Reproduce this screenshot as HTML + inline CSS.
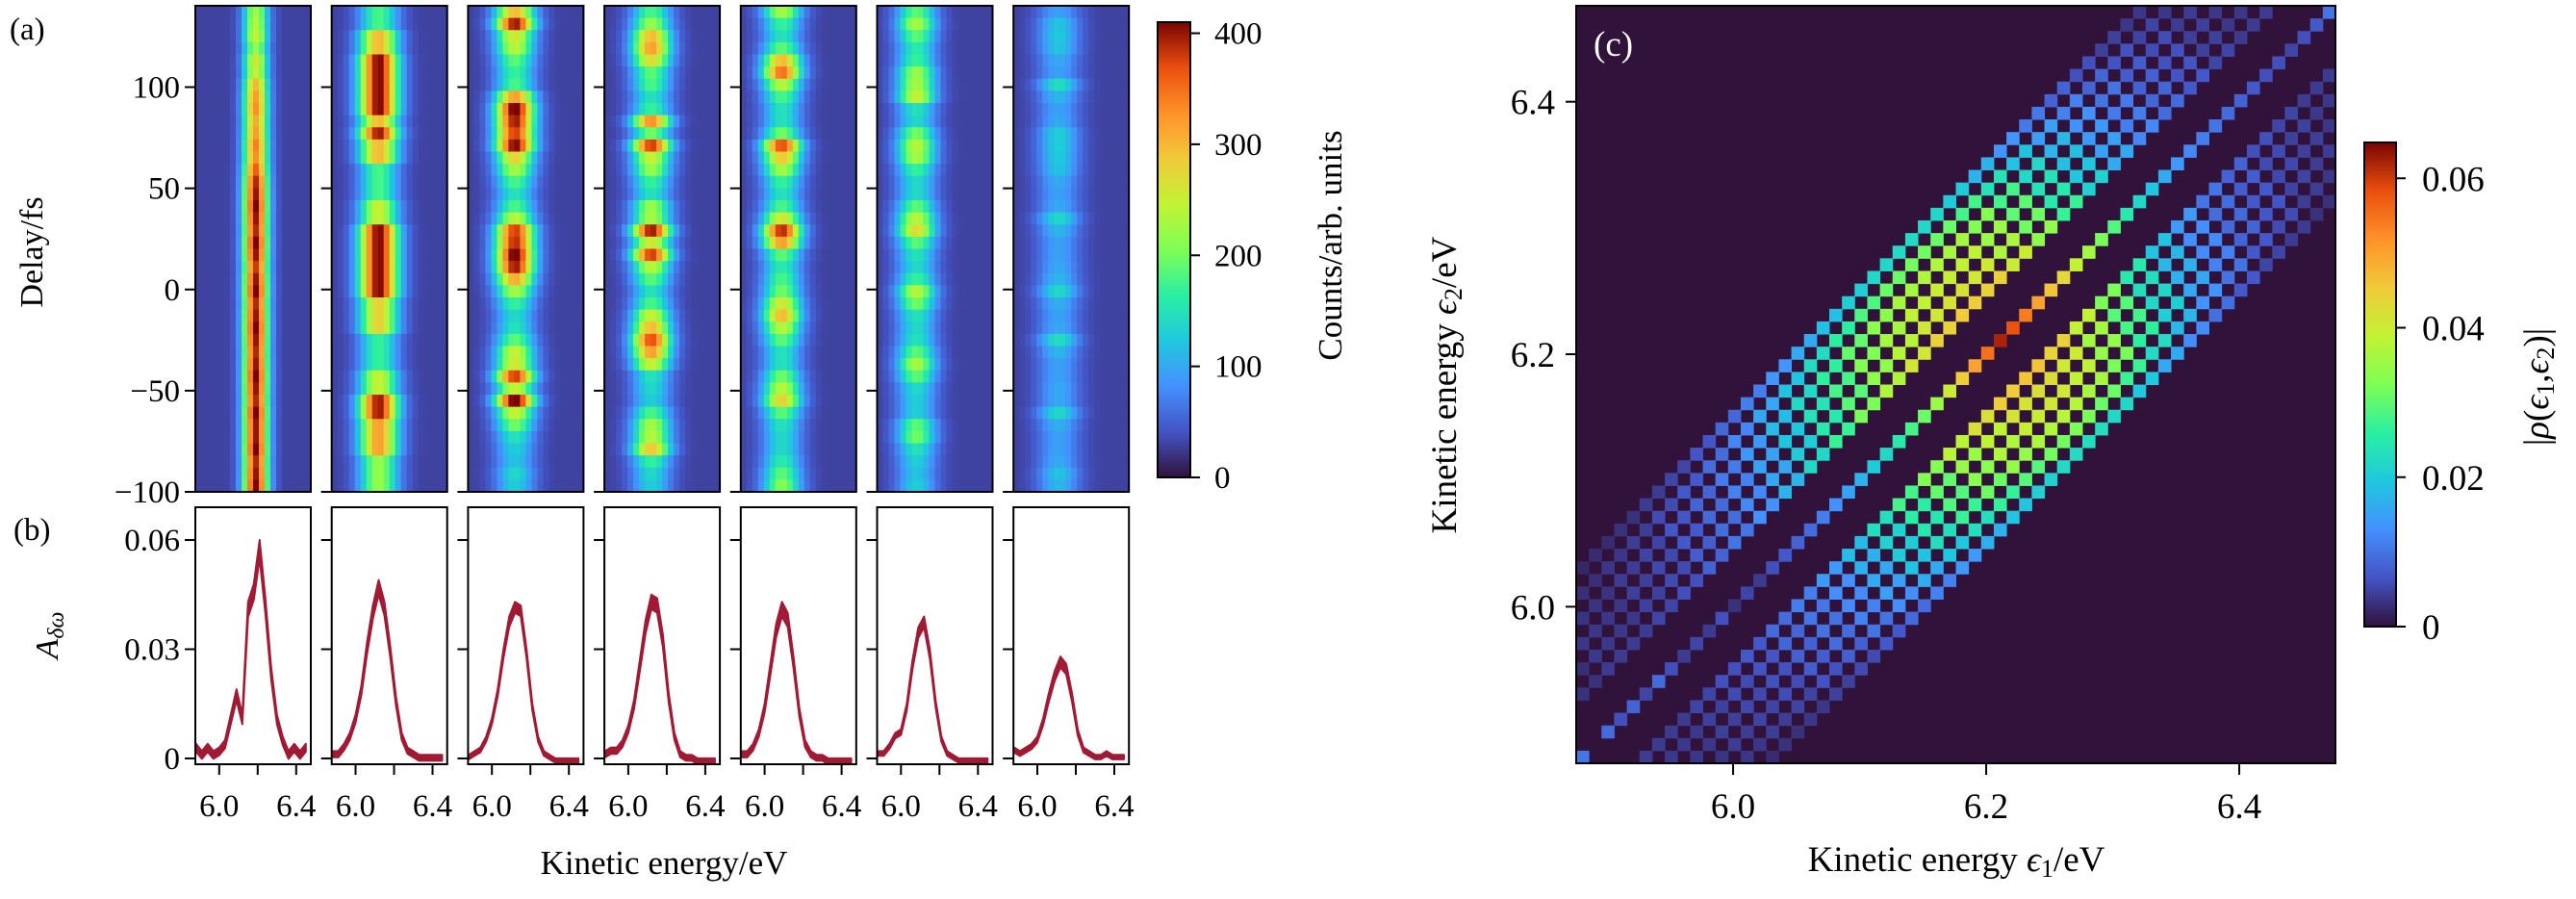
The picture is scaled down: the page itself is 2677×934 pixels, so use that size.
<!DOCTYPE html>
<html><head><meta charset="utf-8"><style>
html,body{margin:0;padding:0;background:#fff;}
svg text{font-family:"Liberation Serif",serif;fill:#000;}
</style></head><body>
<svg id="fig" width="2677" height="929" viewBox="0 0 2677 929" xmlns="http://www.w3.org/2000/svg">
<defs>
<linearGradient id="turboGradA" x1="0" y1="1" x2="0" y2="0"></linearGradient>
<linearGradient id="turboGradC" x1="0" y1="1" x2="0" y2="0"></linearGradient>
</defs>
<g id="panelA"></g>
<g id="panelB"></g>
<g id="panelC"></g>
<g id="labels">
<text x="10" y="41" font-size="33">(a)</text>
<text x="14" y="561" font-size="33">(b)</text>
<text x="1656" y="58" font-size="37" style="fill:#fff">(c)</text>
<text transform="translate(44,262) rotate(-90)" text-anchor="middle" font-size="34">Delay/fs</text>
<text transform="translate(60,660) rotate(-90)" text-anchor="middle" font-size="34" font-style="italic">A<tspan font-size="24" dy="6">δω</tspan></text>
<text x="690" y="908" text-anchor="middle" font-size="35">Kinetic energy/eV</text>
<text transform="translate(1394,255) rotate(-90)" text-anchor="middle" font-size="35">Counts/arb. units</text>
<text x="2033" y="905" text-anchor="middle" font-size="37">Kinetic energy <tspan font-style="italic">ϵ</tspan><tspan font-size="26" dy="6">1</tspan><tspan dy="-6">/eV</tspan></text>
<text transform="translate(1513,400) rotate(-90)" text-anchor="middle" font-size="37">Kinetic energy <tspan font-style="italic">ϵ</tspan><tspan font-size="26" dy="6">2</tspan><tspan dy="-6">/eV</tspan></text>
<text transform="translate(2648,402) rotate(-90)" text-anchor="middle" font-size="37">|<tspan font-style="italic">ρ</tspan>(<tspan font-style="italic">ϵ</tspan><tspan font-size="26" dy="6">1</tspan><tspan dy="-6">,</tspan><tspan font-style="italic">ϵ</tspan><tspan font-size="26" dy="6">2</tspan><tspan dy="-6">)|</tspan></text>
</g>
</svg>
<script>
// ---------- data: panel (a) ----------
const delayTicks = [100, 50, 0, -50, -100];
const delayTickLabels = ["100", "50", "0", "\u221250", "\u2212100"];
const countTicks = [0, 100, 200, 300, 400];
const panelCenters = [6.19, 6.12, 6.12, 6.12, 6.09, 6.08, 6.11];
const panelWidths = [0.045, 0.07, 0.07, 0.07, 0.07, 0.07, 0.075];
const amp1 = [230,240,250,220,260,250,300,320,330,310,320,340,330,360,390,400,410,400,390,410,400,380,400,410,390,400,410,400,390,400,410,400,390,410,400,400,410,390,400,410];
const amp2 = [180,180,300,300,410,410,410,410,410,300,400,300,300,180,180,180,250,250,410,410,410,410,410,410,280,280,280,170,170,170,250,250,400,400,320,320,320,220,220,220];
const amp3 = [300,400,260,240,190,170,180,320,420,400,380,410,280,230,180,150,180,240,380,390,420,400,310,230,170,140,150,190,250,260,380,250,420,250,200,150,130,120,140,130];
const amp4 = [180,220,300,320,270,190,180,150,170,330,200,380,250,220,170,150,220,230,400,260,380,240,190,150,180,250,300,370,320,250,150,140,130,180,230,240,290,170,140,130];
const amp5 = [230,170,150,190,300,350,240,180,150,150,200,370,290,230,170,150,180,260,390,320,190,160,180,200,260,300,240,190,150,150,200,240,280,190,150,140,140,160,190,210];
const amp6 = [190,230,190,160,170,220,230,250,150,140,200,240,230,170,140,140,190,240,270,190,150,140,170,240,200,150,140,150,190,230,190,140,130,130,190,200,150,130,120,130];
const amp7 = [95,120,125,120,100,95,145,110,95,100,130,130,125,120,100,95,100,140,110,95,95,100,110,140,105,95,100,145,110,95,95,100,100,140,105,95,95,100,120,110];
const panelAmps = [amp1, amp2, amp3, amp4, amp5, amp6, amp7];
// ---------- data: panel (b) ----------
const specEnergies = [5.88,5.91,5.94,5.97,6.00,6.03,6.06,6.09,6.12,6.15,6.18,6.21,6.24,6.27,6.30,6.33,6.36,6.39,6.42,6.45];
const spec1 = [0.004,0.002,0.004,0.002,0.003,0.005,0.012,0.019,0.012,0.043,0.048,0.060,0.044,0.025,0.012,0.006,0.002,0.004,0.002,0.004];
const spec2 = [0.002,0.002,0.004,0.007,0.012,0.020,0.032,0.042,0.049,0.043,0.031,0.017,0.007,0.003,0.002,0.001,0.001,0.001,0.001,0.001];
const spec3 = [0.001,0.002,0.003,0.006,0.011,0.019,0.030,0.039,0.043,0.042,0.030,0.015,0.006,0.002,0.001,0,0,0,0,0];
const spec4 = [0.002,0.003,0.003,0.005,0.009,0.016,0.027,0.038,0.045,0.044,0.034,0.018,0.007,0.002,0.001,0.001,0,0,0,0];
const spec5 = [0.002,0.002,0.004,0.008,0.015,0.026,0.037,0.043,0.040,0.028,0.014,0.005,0.002,0.001,0.001,0,0,0,0,0];
const spec6 = [0.002,0.002,0.004,0.007,0.008,0.015,0.027,0.036,0.039,0.030,0.016,0.006,0.002,0.001,0,0,0,0,0,0];
const spec7 = [0.003,0.002,0.003,0.004,0.006,0.011,0.018,0.024,0.028,0.026,0.018,0.008,0.003,0.002,0.001,0.001,0.002,0.001,0.001,0.001];
const spectra = [spec1, spec2, spec3, spec4, spec5, spec6, spec7];
const bandWidths = [0.005, 0.004, 0.003, 0.004, 0.004, 0.003, 0.003];
const ampTicks = [0, 0.03, 0.06];
const ampTickLabels = ["0", "0.03", "0.06"];
const energyTicks = [6.0, 6.2, 6.4];
// ---------- data: panel (c) ----------
const centerLine = [0.010,0,0.009,0.006,0.008,0.005,0.009,0.006,0.004,0.005,0.004,0.006,0.003,0.005,0.004,0.006,0.007,0.008,0.009,0.011,0.013,0.015,0.017,0.020,0.022,0.025,0.028,0.031,0.035,0.040,0.045,0.050,0.055,0.062,0.058,0.054,0.050,0.046,0.043,0.039,0.036,0.032,0.029,0.025,0.022,0.019,0.016,0.014,0.012,0.011,0.010,0.009,0.008,0.007,0.006,0.006,0.005,0.006,0.007,0.010];
const upperBand = [0.003,0.003,0.004,0.004,0.005,0.006,0.008,0.010,0.013,0.017,0.022,0.027,0.032,0.037,0.041,0.044,0.045,0.044,0.040,0.034,0.027,0.021,0.016,0.012,0.009,0.007,0.005,0.004,0.004,0.004];
const lowerBand = [0.003,0.004,0.004,0.005,0.006,0.007,0.009,0.011,0.014,0.018,0.023,0.028,0.033,0.038,0.042,0.045,0.046,0.044,0.039,0.032,0.025,0.019,0.014,0.010,0.008,0.006,0.005,0.004,0.004,0.003];
const offsetWeights = [1.0, 0.92, 0.88, 0.82, 0.70, 0.50];
const corrTicks = [6.0, 6.2, 6.4];
const rhoTicks = [0, 0.02, 0.04, 0.06];
const rhoTickLabels = ["0", "0.02", "0.04", "0.06"];

// ---------- helpers ----------
const NS = "http://www.w3.org/2000/svg";
function mk(tag, attrs, parent) {
  const e = document.createElementNS(NS, tag);
  for (const k in attrs) e.setAttribute(k, attrs[k]);
  if (parent) parent.appendChild(e);
  return e;
}
const TURBO = [[48,18,59],[68,84,196],[68,144,254],[31,200,222],[41,239,162],[126,255,85],[193,243,52],[241,202,58],[254,146,42],[234,79,13],[122,4,3]];
function turbo(x) {
  x = Math.max(0, Math.min(1, x)) * 10;
  const i = Math.min(9, Math.floor(x)), f = x - i;
  const a = TURBO[i], b = TURBO[i+1];
  return "rgb(" + Math.round(a[0]+(b[0]-a[0])*f) + "," + Math.round(a[1]+(b[1]-a[1])*f) + "," + Math.round(a[2]+(b[2]-a[2])*f) + ")";
}
["turboGradA", "turboGradC"].forEach(id => {
  const gr = document.getElementById(id);
  for (let i = 0; i <= 20; i++) mk("stop", {offset: (i/20), "stop-color": turbo(i/20)}, gr);
});
const svg = document.getElementById("fig");
const defs = svg.querySelector("defs");

// ---------- panel (a) ----------
const EMIN = 5.876, EMAX = 6.476;
const A_TOP = 6, A_BOT = 511, D_MIN = -100, D_MAX = 140.2;
const PW = 120, P0 = 203, PSTEP = 141.7;
const yA = d => A_BOT - (d - D_MIN) / (D_MAX - D_MIN) * (A_BOT - A_TOP);
const CMAX_A = 410, BASE_A = 30;
const gA = document.getElementById("panelA");
const NCOL = 20;
panelAmps.forEach((amps, p) => {
  const left = P0 + p*PSTEP;
  const xE = e => left + (e - EMIN) / (EMAX - EMIN) * PW;
  const g = mk("g", {}, gA);
  
  
  const nRow = amps.length;
  const dStep = (D_MAX - D_MIN) / nRow;
  amps.forEach((amp, r) => {
    const d1 = D_MAX - r*dStep, d0 = d1 - dStep;
    for (let c = 0; c < NCOL; c++) {
      const e0 = EMIN + c*(EMAX-EMIN)/NCOL, e1 = e0 + (EMAX-EMIN)/NCOL;
      const em = (e0+e1)/2;
      const v = BASE_A + (amp - BASE_A) * Math.exp(-Math.pow(em - panelCenters[p], 2) / (2*panelWidths[p]*panelWidths[p]));
      const rc = mk("rect", {x: xE(e0).toFixed(2), y: yA(d1).toFixed(2), width: (xE(e1)-xE(e0)+0.6).toFixed(2), height: (yA(d0)-yA(d1)+0.6).toFixed(2), fill: turbo(v/CMAX_A)}, g);
      
      
    }
  });
  const fr = mk("rect", {x: left, y: A_TOP, width: PW, height: A_BOT - A_TOP, fill: "none", stroke: "#000", "stroke-width": 2}, g);
  
  
  delayTicks.forEach((t, i) => {
    const tk = mk("line", {x1: left - 11, x2: left, y1: yA(t), y2: yA(t), stroke: "#000", "stroke-width": 2}, g);
    
    
    if (p === 0) {
      const tl = mk("text", {x: left - 16, y: yA(t) + 11, "text-anchor": "end", "font-size": 33}, g);
      tl.textContent = delayTickLabels[i];
      
      
    }
  });
});
// colorbar a
const CB_L = 1203, CB_R = 1237, CB_T = 23, CB_B = 496;
const yCbA = v => CB_B - v / CMAX_A * (CB_B - CB_T);
const cbA = mk("rect", {x: CB_L, y: CB_T, width: CB_R-CB_L, height: CB_B-CB_T, fill: "url(#turboGradA)", stroke: "#000", "stroke-width": 2}, gA);


countTicks.forEach(t => {
  const tk = mk("line", {x1: CB_R, x2: CB_R + 10, y1: yCbA(t), y2: yCbA(t), stroke: "#000", "stroke-width": 2}, gA);
  
  
  const tl = mk("text", {x: 1262, y: yCbA(t) + 11, "font-size": 33}, gA);
  tl.textContent = String(t);
  
  
});

// ---------- panel (b) ----------
const B_TOP = 527, B_BOT = 794, AMIN = -0.0016, AMAX = 0.069;
const yB = a => B_BOT - (a - AMIN) / (AMAX - AMIN) * (B_BOT - B_TOP);
const gB = document.getElementById("panelB");
spectra.forEach((vals, p) => {
  const left = P0 + p*PSTEP;
  const xE = e => left + (e - EMIN) / (EMAX - EMIN) * PW;
  const g = mk("g", {}, gB);
  
  
  const cp = mk("clipPath", {id: "clipB" + p}, defs);
  mk("rect", {x: left, y: B_TOP, width: PW, height: B_BOT - B_TOP}, cp);
  const mx = Math.max(...vals);
  const up = vals.map((v, i) => xE(specEnergies[i]).toFixed(1) + "," + yB(v).toFixed(1));
  const lo = vals.map((v, i) => xE(specEnergies[i]).toFixed(1) + "," + yB(v - bandWidths[p]*(0.4 + 0.6*v/mx)).toFixed(1)).reverse();
  const band = mk("polygon", {points: up.concat(lo).join(" "), fill: "#a01a34", stroke: "#a01a34", "stroke-width": 2, "stroke-linejoin": "round", "clip-path": "url(#clipB" + p + ")"}, g);
  
  
  const fr = mk("rect", {x: left, y: B_TOP, width: PW, height: B_BOT - B_TOP, fill: "none", stroke: "#000", "stroke-width": 2}, g);
  
  
  ampTicks.forEach((t, i) => {
    const tk = mk("line", {x1: left - 11, x2: left, y1: yB(t), y2: yB(t), stroke: "#000", "stroke-width": 2}, g);
    
    
    if (p === 0) {
      const tl = mk("text", {x: left - 16, y: yB(t) + 11, "text-anchor": "end", "font-size": 33}, g);
      tl.textContent = ampTickLabels[i];
      
      
    }
  });
  energyTicks.forEach(t => {
    const tk = mk("line", {x1: xE(t), x2: xE(t), y1: B_BOT, y2: B_BOT + 11, stroke: "#000", "stroke-width": 2}, g);
    
    
    if (t !== 6.2) {
      const tl = mk("text", {x: xE(t), y: B_BOT + 54, "text-anchor": "middle", "font-size": 33}, g);
      tl.textContent = t.toFixed(1);
      
      
    }
  });
});

// ---------- panel (c) ----------
const C_L = 1638, C_R = 2427, C_T = 6, C_B = 793, CE0 = 5.876, CE1 = 6.476;
const xC = e => C_L + (e - CE0) / (CE1 - CE0) * (C_R - C_L);
const yC = e => C_B - (e - CE0) / (CE1 - CE0) * (C_B - C_T);
const CMAX_C = 0.0648, N = 60, DE = 0.01;
const gC = document.getElementById("panelC");
const bg = mk("rect", {x: C_L, y: C_T, width: C_R - C_L, height: C_B - C_T, fill: turbo(0)}, gC);


for (let i = 0; i < N; i++) {
  for (let j = 0; j < N; j++) {
    const d = j - i, ad = Math.abs(d);
    let v = 0;
    if (d === 0) v = centerLine[i];
    else if (ad % 2 === 1 && ad >= 5 && ad <= 15) {
      const prof = d > 0 ? upperBand : lowerBand;
      v = prof[Math.min(prof.length - 1, Math.floor((i + j) / 4))] * offsetWeights[(ad - 5) / 2];
    }
    if (v <= 0) continue;
    const e1 = CE0 + i*DE, e2 = CE0 + j*DE;
    const rc = mk("rect", {x: xC(e1).toFixed(2), y: yC(e2 + DE).toFixed(2), width: (xC(e1+DE) - xC(e1) + 0.5).toFixed(2), height: (yC(e2) - yC(e2+DE) + 0.5).toFixed(2), fill: turbo(v / CMAX_C)}, gC);
    
    
  }
}
const frC = mk("rect", {x: C_L, y: C_T, width: C_R - C_L, height: C_B - C_T, fill: "none", stroke: "#000", "stroke-width": 2}, gC);


corrTicks.forEach(t => {
  const tx = mk("line", {x1: xC(t), x2: xC(t), y1: C_B, y2: C_B + 12, stroke: "#000", "stroke-width": 2}, gC);
  
  
  const lx = mk("text", {x: xC(t), y: C_B + 57, "text-anchor": "middle", "font-size": 37}, gC);
  lx.textContent = t.toFixed(1);
  
  
  const ty = mk("line", {x1: C_L - 11, x2: C_L, y1: yC(t), y2: yC(t), stroke: "#000", "stroke-width": 2}, gC);
  
  
  const ly = mk("text", {x: C_L - 22, y: yC(t) + 13, "text-anchor": "end", "font-size": 37}, gC);
  ly.textContent = t.toFixed(1);
  
  
});
const CC_L = 2457, CC_R = 2490, CC_T = 148, CC_B = 651;
const yCbC = v => CC_B - v / CMAX_C * (CC_B - CC_T);
const cbC = mk("rect", {x: CC_L, y: CC_T, width: CC_R - CC_L, height: CC_B - CC_T, fill: "url(#turboGradC)", stroke: "#000", "stroke-width": 2}, gC);


rhoTicks.forEach((t, i) => {
  const tk = mk("line", {x1: CC_R, x2: CC_R + 10, y1: yCbC(t), y2: yCbC(t), stroke: "#000", "stroke-width": 2}, gC);
  
  
  const tl = mk("text", {x: 2517, y: yCbC(t) + 13, "font-size": 37}, gC);
  tl.textContent = rhoTickLabels[i];
  
  
});
</script>
</body></html>
